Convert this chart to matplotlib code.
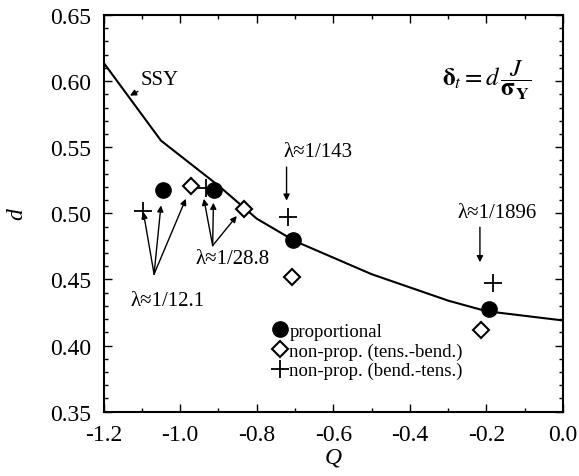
import matplotlib
matplotlib.use("Agg")
import matplotlib.pyplot as plt
from matplotlib.ticker import MultipleLocator

plt.rcParams['font.family'] = ['Liberation Serif', 'DejaVu Serif']
plt.rcParams['mathtext.fontset'] = 'stix'

# SSY curve
ssy_q = [-1.2, -1.05, -0.9, -0.8, -0.7, -0.5, -0.3, -0.2, 0.0]
ssy_d = [0.614, 0.555, 0.521, 0.496, 0.479, 0.454, 0.434, 0.426, 0.419]

# proportional (filled circles)
prop_q = [-1.044, -0.911, -0.706, -0.193]
prop_d = [0.518, 0.518, 0.480, 0.428]

# non-prop. tens.-bend. (diamonds)
tb_q = [-0.972, -0.833, -0.707, -0.214]
tb_d = [0.521, 0.503, 0.452, 0.412]

# non-prop. bend.-tens. (plus)
bt_q = [-1.096, -0.932, -0.717, -0.184]
bt_d = [0.502, 0.519, 0.4975, 0.447]

fig = plt.figure(figsize=(5.79, 4.77), dpi=100)
ax = fig.add_axes([0.1788, 0.1348, 0.7936, 0.8317])

ax.plot(ssy_q, ssy_d, color='black', lw=1.5, zorder=2)
l1, = ax.plot(tb_q, tb_d, ls='none', marker='D', ms=8, mfc='white', mec='black', mew=1.5, zorder=3,
              label='non-prop. (tens.-bend.)')
l2, = ax.plot(bt_q, bt_d, ls='none', marker='+', ms=13, mec='black', mew=1.3, zorder=3,
              label='non-prop. (bend.-tens.)')
l0, = ax.plot(prop_q, prop_d, ls='none', marker='o', ms=11, mfc='black', mec='black', zorder=4,
              label='proportional')

arrow = dict(arrowstyle='-|>', lw=1, color='black', mutation_scale=9, shrinkA=0, shrinkB=0)

# SSY label
ax.annotate('SSY', xy=(-1.131, 0.589), xytext=(-1.103, 0.601), fontsize=15,
            ha='left', va='center', arrowprops=arrow)

# lambda = 1/12.1
for tip in [(-1.096, 0.501), (-1.05, 0.506), (-0.985, 0.511)]:
    ax.annotate('', xy=tip, xytext=(-1.068, 0.454), arrowprops=arrow)
ax.text(-1.033, 0.434, 'λ≈1/12.1', fontsize=15, ha='center', va='center')

# lambda = 1/28.8
for tip in [(-0.938, 0.511), (-0.913, 0.508), (-0.852, 0.498)]:
    ax.annotate('', xy=tip, xytext=(-0.915, 0.4756), arrowprops=arrow)
ax.text(-0.863, 0.4655, 'λ≈1/28.8', fontsize=15, ha='center', va='center')

# lambda = 1/143
ax.annotate('', xy=(-0.722, 0.5096), xytext=(-0.722, 0.535), arrowprops=arrow)
ax.text(-0.64, 0.5465, 'λ≈1/143', fontsize=15, ha='center', va='center')

# lambda = 1/1896
ax.annotate('', xy=(-0.217, 0.463), xytext=(-0.217, 0.4895), arrowprops=arrow)
ax.text(-0.171, 0.501, 'λ≈1/1896', fontsize=15, ha='center', va='center')

# formula
ax.text(-0.2, 0.6015, r'$\mathbf{\delta}_t = d\,\dfrac{J}{\mathbf{\sigma}_\mathbf{Y}}$', fontsize=18,
        ha='center', va='center')

ax.legend(handles=[l0, l1, l2], loc='upper left', bbox_to_anchor=(0.370, 0.225),
          frameon=False, fontsize=13.5, handlelength=0.7, handletextpad=0.15,
          labelspacing=0.14, borderpad=0, borderaxespad=0, markerscale=1)

ax.set_xlim(-1.2, 0.0)
ax.set_ylim(0.35, 0.65)
ax.xaxis.set_major_locator(MultipleLocator(0.2))
ax.xaxis.set_minor_locator(MultipleLocator(0.1))
ax.yaxis.set_major_locator(MultipleLocator(0.05))
ax.yaxis.set_minor_locator(MultipleLocator(0.01))
ax.xaxis.set_major_formatter(plt.FormatStrFormatter('%.1f'))
ax.yaxis.set_major_formatter(plt.FormatStrFormatter('%.2f'))
ax.tick_params(which='both', direction='in', top=True, right=True, labelsize=17, width=1)
ax.tick_params(which='major', length=6, pad=9)
ax.tick_params(which='minor', length=3)
for s in ax.spines.values():
    s.set_linewidth(1.5)

ax.set_xlabel('Q', fontsize=17, style='italic', labelpad=1)
ax.set_ylabel('d', fontsize=17, style='italic', labelpad=16)

fig.savefig('out.png', dpi=100)
